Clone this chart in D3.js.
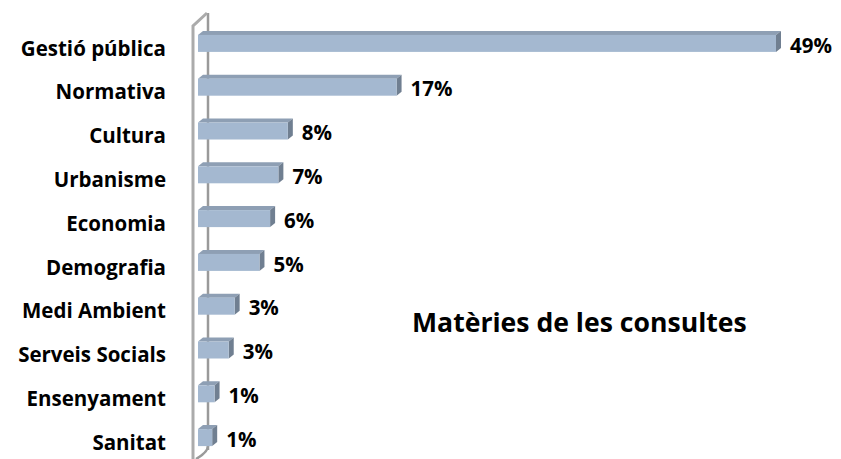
<!DOCTYPE html>
<html>
<head>
<meta charset="utf-8">
<script src="https://cdn.jsdelivr.net/npm/d3@7"></script>
<style>
  body { margin: 0; background: #fff; }
  text { font-family: "Open Sans", Lato, sans-serif; font-weight: bold; fill: #000; }
</style>
</head>
<body>
<div class="chart"></div>
<script>
// data (percent of consultations)
const categories = ['Gestió pública', 'Normativa', 'Cultura', 'Urbanisme', 'Economia',
  'Demografia', 'Medi Ambient', 'Serveis Socials', 'Ensenyament', 'Sanitat'];
const values = [48.9, 16.8, 7.6, 6.8, 6.1, 5.2, 3.1, 2.6, 1.4, 1.2];
const title = 'Matèries de les consultes';

const width = 841;
const height = 459;

// 3d look
const depth = { dx: 5, dy: -4 };
const barH = 17;

const svg = d3.select('.chart')
  .append('svg')
  .attr('width', width)
  .attr('height', height);

// scales
const xScale = d3.scaleLinear()
  .domain([0, 50])
  .range([198, 198 + 50 * 11.82]);

const yScale = d3.scaleBand()
  .domain(categories)
  .range([21, 459])
  .paddingInner(0);

const rowC = d => yScale(d) + yScale.bandwidth() / 2;

// wall (axis) drawn as a thin 3d panel
const x0 = xScale(0);
svg.append('path')
  .attr('d', `M${x0 + 10},450 L${x0 + 10},13`)
  .attr('fill', 'none')
  .attr('stroke', '#9a9a9a')
  .attr('stroke-width', 2.5);

svg.append('path')
  .attr('d', `M${x0 + 10},446 Q${x0 + 10},452 ${x0 - 2},459`)
  .attr('fill', 'none')
  .attr('stroke', '#9a9a9a')
  .attr('stroke-width', 2.5);

svg.append('path')
  .attr('d', `M${x0 - 5},459 L${x0 - 5},26 L${x0 + 9},13`)
  .attr('fill', 'none')
  .attr('stroke', '#ababab')
  .attr('stroke-width', 3);

// bars
const bars = svg.append('g')
  .attr('class', 'bars')
  .selectAll('g')
  .data(categories.map((c, i) => ({ cat: c, value: values[i] })))
  .enter()
  .append('g');

const barTop = d => rowC(d.cat) - barH / 2 + 0.5;

bars.append('path') // top face
  .attr('d', d => {
    const y = barTop(d), a = x0, b = xScale(d.value);
    return `M${a},${y} L${a + depth.dx},${y + depth.dy} L${b + depth.dx},${y + depth.dy} L${b},${y} Z`;
  })
  .style('fill', '#8e9fb4');

bars.append('path') // side face
  .attr('d', d => {
    const y = barTop(d), b = xScale(d.value);
    return `M${b},${y} L${b + depth.dx},${y + depth.dy} L${b + depth.dx},${y + depth.dy + barH} L${b},${y + barH} Z`;
  })
  .style('fill', '#707f91');

bars.append('rect') // front face
  .attr('x', x0)
  .attr('y', d => barTop(d))
  .attr('width', d => xScale(d.value) - x0)
  .attr('height', barH)
  .style('fill', '#a4b8d0');

// value labels
bars.append('text')
  .attr('x', d => xScale(d.value) + depth.dx + 9)
  .attr('y', d => rowC(d.cat) + 2.5)
  .attr('dy', '0.35em')
  .style('font-size', '20.5px')
  .text(d => `${Math.round(d.value)}%`);

// category labels
svg.append('g')
  .selectAll('text')
  .data(categories)
  .enter()
  .append('text')
  .attr('x', 166)
  .attr('y', d => rowC(d) + 5.5)
  .attr('dy', '0.35em')
  .attr('text-anchor', 'end')
  .style('font-size', '20.5px')
  .text(d => d);

svg.append('text')
  .attr('x', 412)
  .attr('y', 332)
  .style('font-size', '26.6px')
  .text(title);
</script>
</body>
</html>
